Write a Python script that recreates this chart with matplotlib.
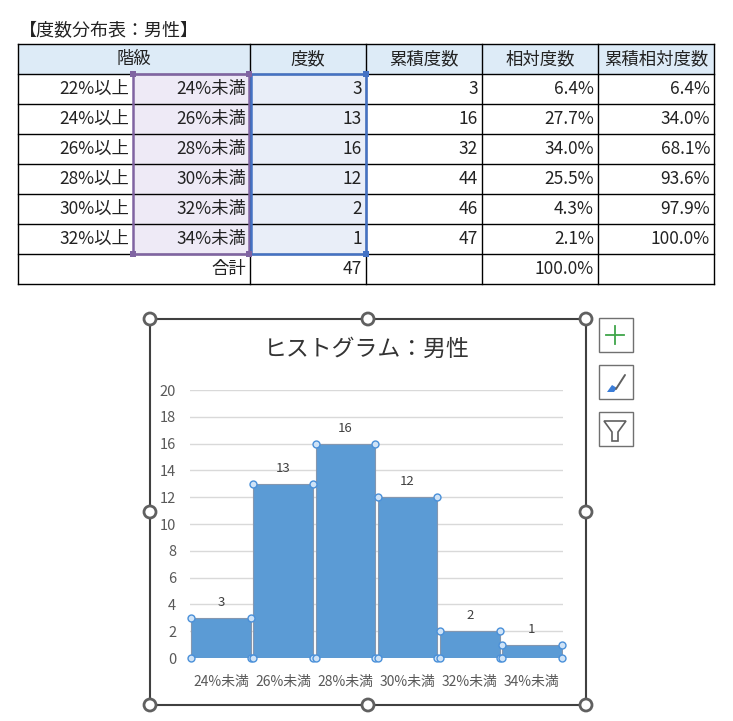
import matplotlib
matplotlib.use('Agg')
import matplotlib.pyplot as plt
from matplotlib.patches import Rectangle, Circle, Polygon

plt.rcParams['font.family'] = ['Noto Sans CJK JP', 'DejaVu Sans']

# data read from the sheet
lower = ['22%以上', '24%以上', '26%以上', '28%以上', '30%以上', '32%以上']
upper = ['24%未満', '26%未満', '28%未満', '30%未満', '32%未満', '34%未満']
freq = [3, 13, 16, 12, 2, 1]
cum_freq = [3, 16, 32, 44, 46, 47]
rel_freq = [6.4, 27.7, 34.0, 25.5, 4.3, 2.1]
cum_rel = [6.4, 34.0, 68.1, 93.6, 97.9, 100.0]
total_freq = 47
total_rel = 100.0
headers = ['階級', '度数', '累積度数', '相対度数', '累積相対度数']

W, H = 733, 721
fig = plt.figure(figsize=(W / 100, H / 100), dpi=100)

# background axes in pixel coordinates (table, frame, buttons)
bg = fig.add_axes([0, 0, 1, 1])
bg.set_xlim(0, W)
bg.set_ylim(H, 0)
bg.axis('off')

# ---- table ----
cols = [18, 250, 366, 482, 598, 714]
top, rh = 44, 30
n = len(freq)
bottom = top + rh * (n + 2)
fs = 12.5
tc = '#222222'

bg.text(19, 30, '【度数分布表：男性】', fontsize=13, va='center', ha='left', color=tc)

bg.add_patch(Rectangle((cols[0], top), cols[-1] - cols[0], rh, color='#DDEBF7', lw=0))
# selection fills
bg.add_patch(Rectangle((133, top + rh), 250 - 133, rh * n, color='#EEEAF6', lw=0))
bg.add_patch(Rectangle((250, top + rh), 116, rh * n, color='#E9EEF8', lw=0))

for i in range(n + 3):
    y = top + i * rh
    bg.plot([cols[0], cols[-1]], [y, y], color='black', lw=1)
for j, x in enumerate(cols):
    bg.plot([x, x], [top, bottom], color='black', lw=1)

# header labels
centers = [(cols[k] + cols[k + 1]) / 2 for k in range(5)]
for k, h in enumerate(headers):
    bg.text(centers[k], top + rh / 2, h, fontsize=fs, ha='center', va='center', color=tc)

for i in range(n):
    yc = top + rh * (i + 1) + rh / 2
    bg.text(129, yc, lower[i], fontsize=fs, ha='right', va='center', color=tc)
    bg.text(246, yc, upper[i], fontsize=fs, ha='right', va='center', color=tc)
    bg.text(cols[2] - 4, yc, str(freq[i]), fontsize=fs, ha='right', va='center', color=tc)
    bg.text(cols[3] - 4, yc, str(cum_freq[i]), fontsize=fs, ha='right', va='center', color=tc)
    bg.text(cols[4] - 4, yc, f'{rel_freq[i]:.1f}%', fontsize=fs, ha='right', va='center', color=tc)
    bg.text(cols[5] - 4, yc, f'{cum_rel[i]:.1f}%', fontsize=fs, ha='right', va='center', color=tc)

yt = top + rh * (n + 1) + rh / 2
bg.text(246, yt, '合計', fontsize=fs, ha='right', va='center', color=tc)
bg.text(cols[2] - 4, yt, str(total_freq), fontsize=fs, ha='right', va='center', color=tc)
bg.text(cols[4] - 4, yt, f'{total_rel:.1f}%', fontsize=fs, ha='right', va='center', color=tc)

# selection borders
y0, y1 = top + rh, top + rh * (n + 1)
purple, blue = '#8064A2', '#4472C4'
bg.add_patch(Rectangle((133, y0), 116, y1 - y0, fill=False, ec=purple, lw=1.8, zorder=3))
bg.add_patch(Rectangle((251, y0), 115, y1 - y0, fill=False, ec=blue, lw=1.8, zorder=3))
for (x, y) in [(133, y0), (249, y0), (133, y1), (249, y1)]:
    bg.add_patch(Rectangle((x - 3, y - 3), 6, 6, color=purple, lw=0, zorder=4))
for (x, y) in [(366, y0), (366, y1)]:
    bg.add_patch(Rectangle((x - 3, y - 3), 6, 6, color=blue, lw=0, zorder=4))

# ---- chart frame ----
fx0, fx1, fy0, fy1 = 150, 586, 319, 705
bg.add_patch(Rectangle((fx0, fy0), fx1 - fx0, fy1 - fy0, fill=False, ec='#404040', lw=1.5))
fxm, fym = (fx0 + fx1) / 2, (fy0 + fy1) / 2
for (x, y) in [(fx0, fy0), (fxm, fy0), (fx1, fy0), (fx0, fym), (fx1, fym),
               (fx0, fy1), (fxm, fy1), (fx1, fy1)]:
    bg.add_patch(Circle((x, y), 6, fc='white', ec='#606060', lw=2, zorder=5))

bg.text(367, 349, 'ヒストグラム：男性', fontsize=16.5, ha='center', va='center', color='#333333')

# side buttons
for by in [318, 365, 412]:
    bg.add_patch(Rectangle((599, by), 34, 34, fill=False, ec='#707070', lw=1))
bg.plot([606, 624], [335, 335], color='#3fa54a', lw=1.3)
bg.plot([615, 615], [326, 344], color='#3fa54a', lw=1.3)
bg.plot([616, 625], [389, 375], color='#606060', lw=1.4, solid_capstyle='round')
bg.add_patch(Polygon([[607, 392], [612, 385], [617, 388], [614, 392]], color='#3b7dd8', lw=0))
bg.add_patch(Polygon([[604, 421], [626, 421], [618, 432], [618, 441], [612, 441], [612, 432]],
                     closed=True, fill=False, ec='#606060', lw=1.2))

# ---- histogram ----
px0, px1, py0, py1 = 190, 563, 390, 658
ax = fig.add_axes([px0 / W, (H - py1) / H, (px1 - px0) / W, (py1 - py0) / H])
x = list(range(n))
ax.bar(x, freq, width=0.96, color='#5B9BD5', edgecolor='#8497B0', lw=0.8, zorder=2)
ax.set_xlim(-0.5, n - 0.5)
ax.set_ylim(0, 20)
ax.set_yticks(range(0, 21, 2))
ax.set_xticks(x)
ax.set_xticklabels(upper)
ax.grid(axis='y', color='#D9D9D9', lw=1, zorder=0)
for s in ax.spines.values():
    s.set_visible(False)
ax.tick_params(length=0, colors='#595959', labelsize=10.5)
ax.tick_params(axis='y', pad=10)
ax.tick_params(axis='x', pad=12, labelsize=10)

for i, v in enumerate(freq):
    ax.annotate(str(v), (i, v), xytext=(0, 11), textcoords='offset points',
                ha='center', va='center', fontsize=9.5, color='#404040')
    l, r = i - 0.48, i + 0.48
    ax.plot([l, l, r, r], [0, v, v, 0], ls='none', marker='o', ms=5,
            mfc='#CFE3F7', mec='#4A90D9', mew=1, clip_on=False, zorder=4)

fig.savefig('out.png', dpi=100)
